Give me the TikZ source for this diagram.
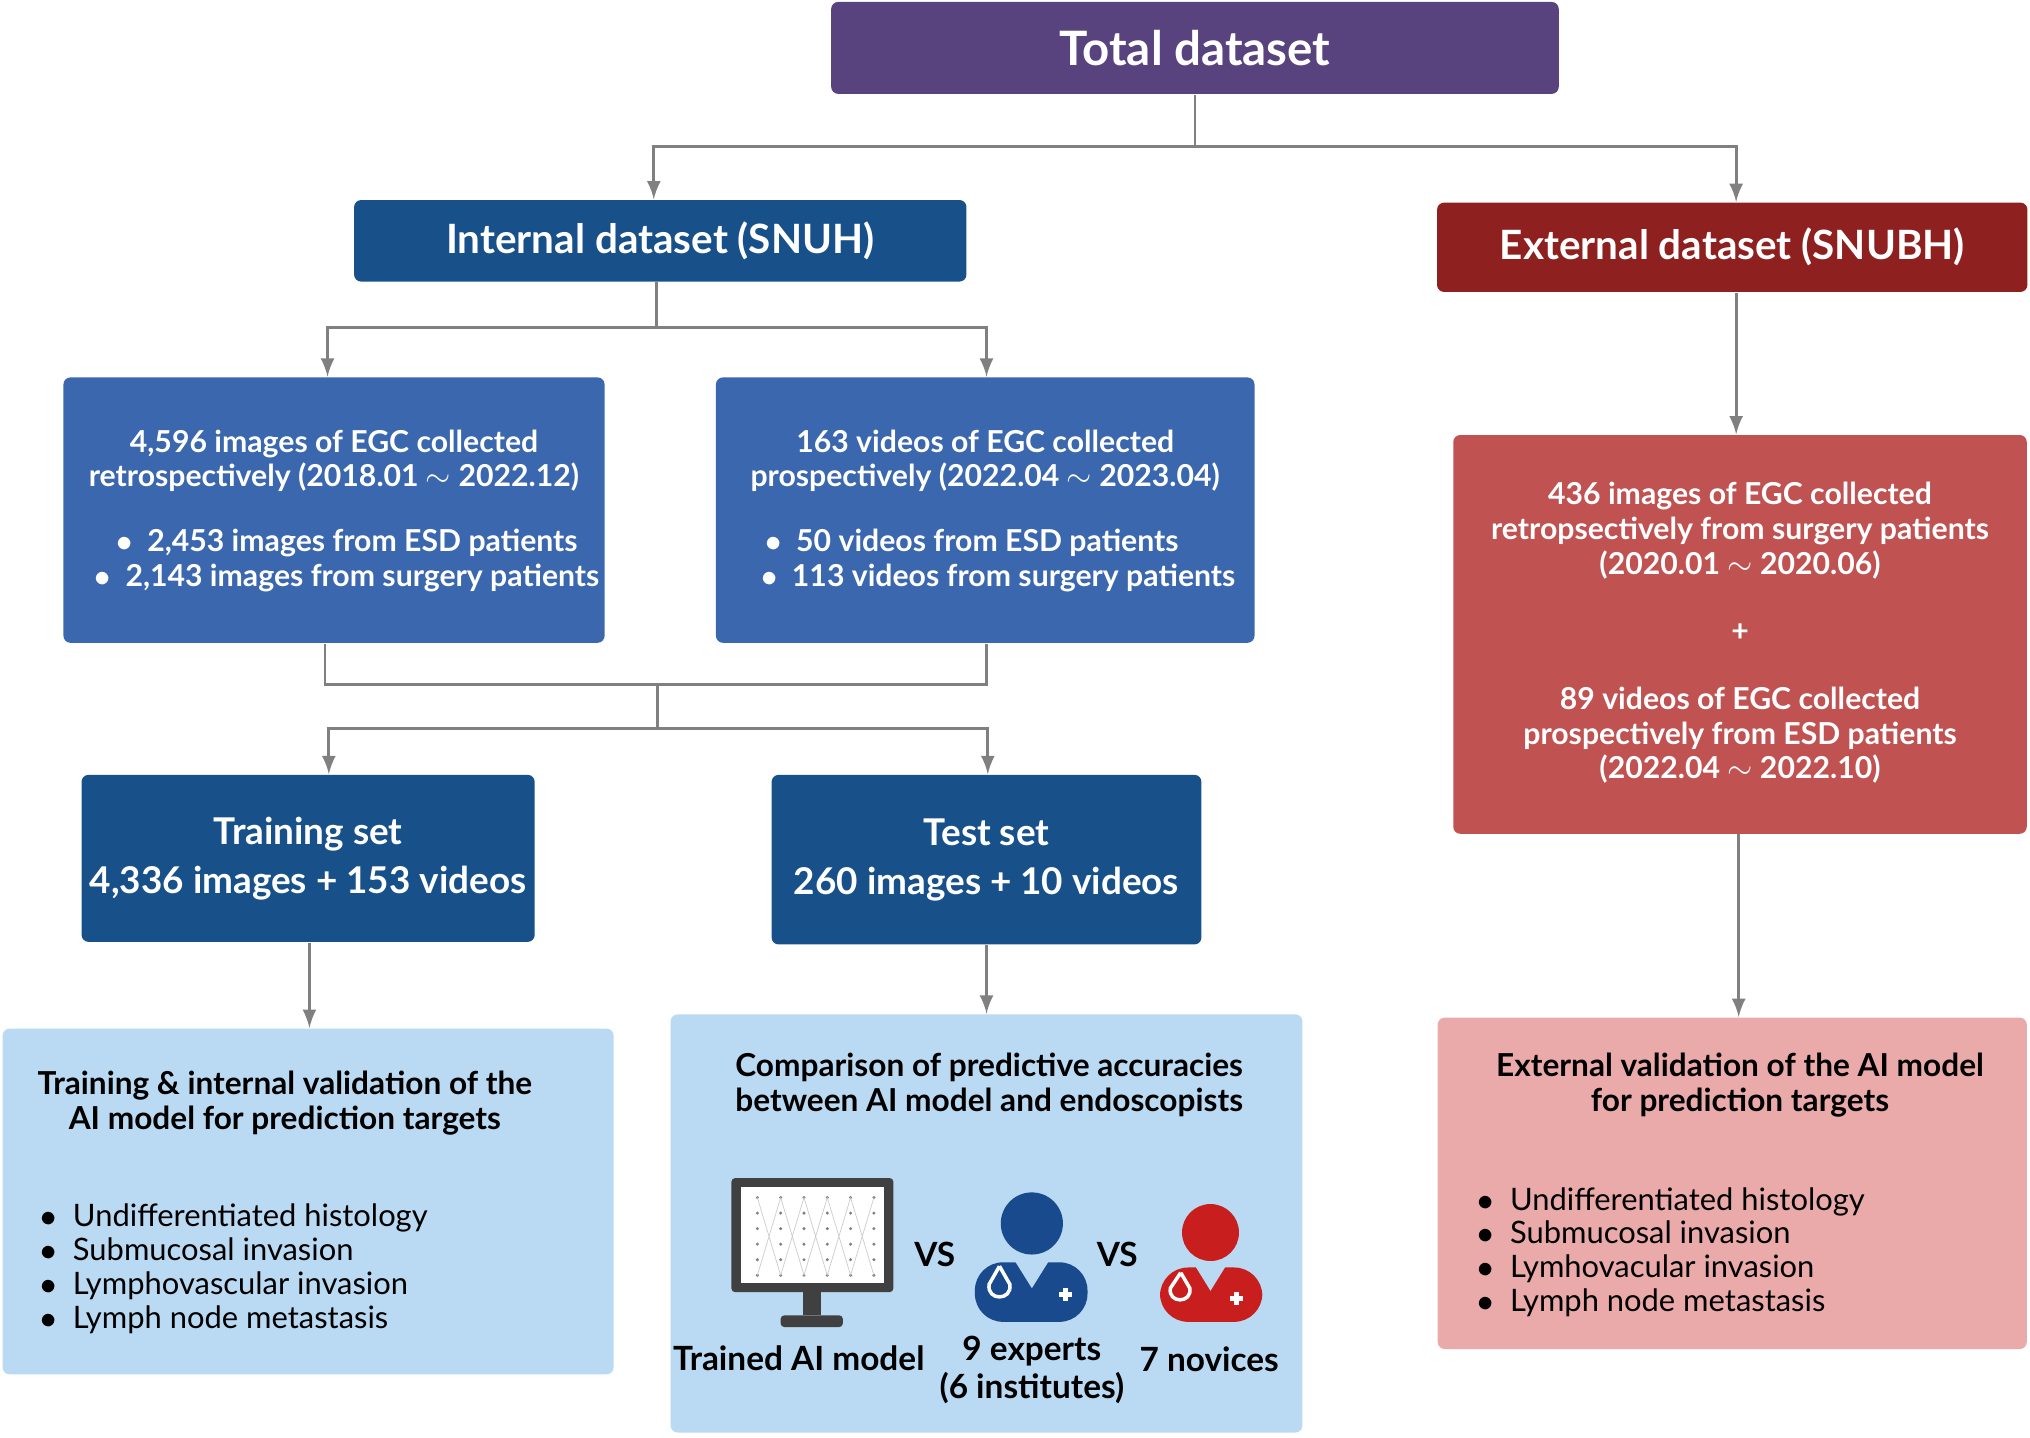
\documentclass[tikz,border=0pt]{standalone}
\usepackage{fontspec}
\setmainfont{Lato}
\usepackage{tikz}
\definecolor{cpurple}{HTML}{58437F}
\definecolor{cdblue}{HTML}{18518A}
\definecolor{cmblue}{HTML}{3A67AE}
\definecolor{clblue}{HTML}{B9DAF2}
\definecolor{cdred}{HTML}{8E2020}
\definecolor{cmred}{HTML}{C05252}
\definecolor{cpink}{HTML}{EBAAAA}
\definecolor{cline}{HTML}{808080}
\definecolor{cexp}{HTML}{1A4A8E}
\definecolor{cnov}{HTML}{C81E1E}
\tikzset{
	box/.style={rounded corners=2pt, align=center, inner sep=0pt},
	size/.style args={#1x#2}{minimum width=#1*0.01295cm, minimum height=#2*0.01295cm},
	head/.style={box, text=white, font=\bfseries\fontsize{11.5}{13}\selectfont},
	body/.style={text=white, align=center, font=\bfseries\fontsize{8.6}{9.9}\selectfont},
	item/.style={align=left, anchor=west, font=\fontsize{8.8}{9.6}\selectfont},
	dark/.style={align=center, font=\bfseries\fontsize{9}{9.9}\selectfont},
	lbl/.style={dark, font=\bfseries\fontsize{9.5}{11}\selectfont},
	conn/.style={draw=cline, line width=0.8pt},
	arr/.style={conn, -latex}
}
\begin{document}
\begin{tikzpicture}[x=0.01295cm, y=-0.01295cm]
	\useasboundingbox (0,0) rectangle (1568,1110);
	% top level
	\node[head, fill=cpurple, size=562x71, font=\bfseries\fontsize{13.5}{15}\selectfont] (total) at (923,37) {Total dataset};
	\node[head, fill=cdblue, size=473x63] (int) at (510,186) {Internal dataset (SNUH)};
	\node[head, fill=cdred, size=456x69] (ext) at (1338,191) {External dataset (SNUBH)};
	% internal data
	\node[box, fill=cmblue, size=418x205] (img) at (258,394) {};
	\node[body] at (258,356) {4,596 images of EGC collected\\retrospectively (2018.01 $\sim$ 2022.12)};
	\node[body] at (268,433) {$\bullet$\ \ 2,453 images from ESD patients\\$\bullet$\ \ 2,143 images from surgery patients};
	\node[box, fill=cmblue, size=416x205] (vid) at (761,394) {};
	\node[body] at (761,356) {163 videos of EGC collected\\prospectively (2022.04 $\sim$ 2023.04)};
	\node[body] at (771,433) {$\bullet$\ \ 50 videos from ESD patients\hphantom{111}\\$\bullet$\ \ 113 videos from surgery patients};
	\node[head, fill=cdblue, size=350x129, font=\bfseries\fontsize{10.5}{14}\selectfont] (train) at (238,663) {Training set\\4,336 images + 153 videos};
	\node[head, fill=cdblue, size=332x131, font=\bfseries\fontsize{10.5}{14}\selectfont] (test) at (762,664) {Test set\\260 images + 10 videos};
	% external data
	\node[box, fill=cmred, size=443x308] (exd) at (1344,490) {};
	\node[body] at (1344,410) {436 images of EGC collected\\retropsectively from surgery patients\\(2020.01 $\sim$ 2020.06)};
	\node[body] at (1344,489) {+};
	\node[body] at (1344,568) {89 videos of EGC collected\\prospectively from ESD patients\\(2022.04 $\sim$ 2022.10)};
	% results
	\node[box, fill=clblue, size=472x267] (val) at (238,928) {};
	\node[dark] at (220,852) {Training \& internal validation of the\\AI model for prediction targets};
	\node[item] at (22,980) {$\bullet$\ \ Undifferentiated histology\\$\bullet$\ \ Submucosal invasion\\$\bullet$\ \ Lymphovascular invasion\\$\bullet$\ \ Lymph node metastasis};
	\node[box, fill=clblue, size=488x323] (cmp) at (762,945) {};
	\node[dark] at (764,838) {Comparison of predictive accuracies\\between AI model and endoscopists};
	\node[box, fill=cpink, size=455x256] (exv) at (1338,914) {};
	\node[dark] at (1344,838) {External validation of the AI model\\for prediction targets};
	\node[item] at (1132,967) {$\bullet$\ \ Undifferentiated histology\\$\bullet$\ \ Submucosal invasion\\$\bullet$\ \ Lymhovacular invasion\\$\bullet$\ \ Lymph node metastasis};
	% icons
	\fill[black!75, rounded corners=1pt] (565,910) rectangle (690,998);
	\fill[white] (572,917) rectangle (683,991);
	\foreach \i in {0,...,5}
		\foreach \j in {0,...,5}
			\fill[black!50] (585+\i*18,925+\j*12) circle (1.3);
	\foreach \i in {0,...,4}
		\draw[black!20, line width=0.2pt] (585+\i*18,925) -- (603+\i*18,985) (585+\i*18,985) -- (603+\i*18,925);
	\fill[black!75] (620,998) rectangle (634,1016);
	\fill[black!75, rounded corners=1pt] (603,1016) rectangle (651,1025);
	\fill[cexp] (797,945) circle (24);
	\fill[cexp, rounded corners=8pt] (753,1021) -- (753,975) -- (840,975) -- (840,1021) -- cycle;
	\fill[clblue] (782,971) -- (797,995) -- (812,971) -- cycle;
	\draw[white, line width=1pt] (772,978) -- (764,992) .. controls (762,1005) and (782,1005) .. (780,992) -- (772,978);
	\draw[white, line width=1.6pt] (818,1000) -- (828,1000) (823,995) -- (823,1005);
	\fill[cnov] (935,952) circle (22);
	\fill[cnov, rounded corners=8pt] (896,1021) -- (896,979) -- (975,979) -- (975,1021) -- cycle;
	\fill[clblue] (922,976) -- (935,997) -- (948,976) -- cycle;
	\draw[white, line width=1pt] (912,983) -- (904,995) .. controls (902,1007) and (921,1007) .. (919,995) -- (912,983);
	\draw[white, line width=1.6pt] (950,1003) -- (960,1003) (955,998) -- (955,1008);
	\node[lbl] at (617,1049) {Trained AI model};
	\node[lbl] at (797,1058) {9 experts\\(6 institutes)};
	\node[lbl] at (934,1050) {7 novices};
	\node[lbl] at (722,969) {VS};
	\node[lbl] at (863,969) {VS};
	% connectors
	\coordinate (t1) at (923,113);
	\coordinate (i1) at (507,253);
	\coordinate (m1) at (508,529);
	\coordinate (m2) at (508,563);
	\draw[conn] (total.south) -- (t1);
	\draw[arr] (t1) -| (int.north -| 505,0);
	\draw[arr] (t1) -| (ext.north -| 1341,0);
	\draw[conn] (int.south -| i1) -- (i1);
	\draw[arr] (i1) -| (img.north -| 253,0);
	\draw[arr] (i1) -| (vid.north -| 762,0);
	\draw[conn] (img.south -| 251,0) |- (m1) -| (vid.south -| 762,0);
	\draw[conn] (m1) -- (m2);
	\draw[arr] (m2) -| (train.north -| 254,0);
	\draw[arr] (m2) -| (test.north -| 763,0);
	\draw[arr] (train.south -| 239,0) -- (val.north -| 239,0);
	\draw[arr] (test.south) -- (cmp.north -| test.south);
	\draw[arr] (ext.south -| 1341,0) -- (exd.north -| 1341,0);
	\draw[arr] (exd.south -| 1343,0) -- (exv.north -| 1343,0);
\end{tikzpicture}
\end{document}
